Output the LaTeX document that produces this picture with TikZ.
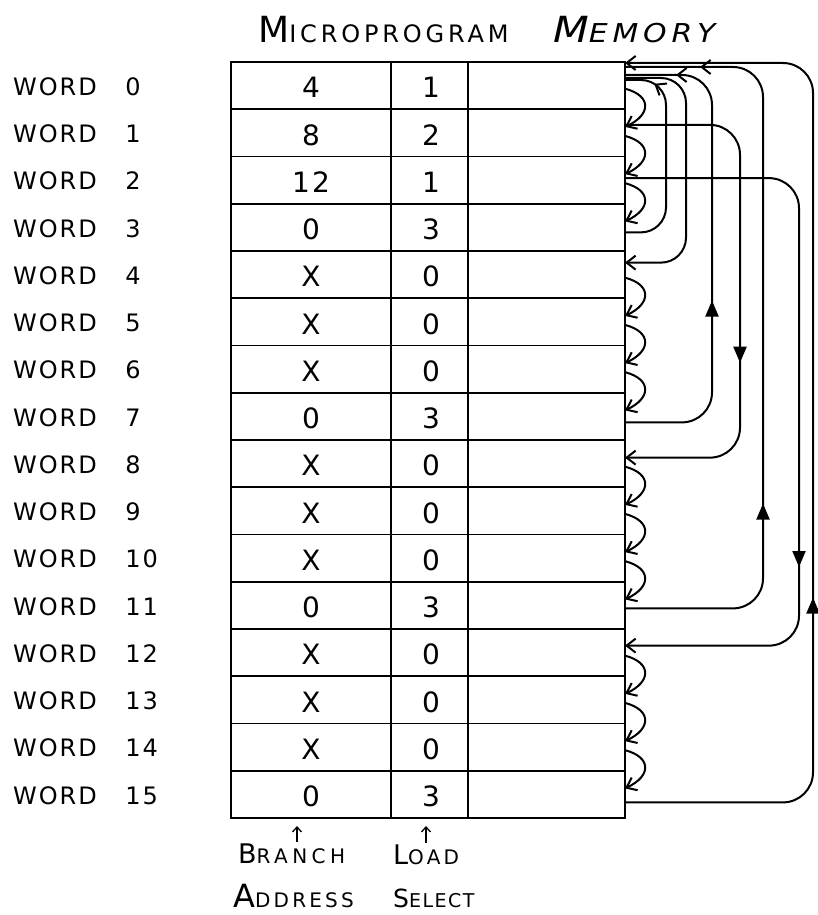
\documentclass[tikz,border=0pt]{standalone}
\usepackage{fontspec}
\setmainfont{DejaVu Sans}
\newfontfamily\hand[LetterSpace=8,WordSpace=3]{DejaVu Sans}
\newfontfamily\handwide[LetterSpace=16]{DejaVu Sans}
\newfontfamily\handwider[LetterSpace=22]{DejaVu Sans}
\usetikzlibrary{arrows.meta,decorations.markings}

\begin{document}
\begin{tikzpicture}[x=1pt,y=1pt,
  rowbox/.style={draw,line width=1.6pt,minimum width=394pt,minimum height=47.25pt,
                 inner sep=0pt,outer sep=0pt},
  grid/.style={line width=1.6pt},
  cell/.style={inner sep=0pt,font=\hand\fontsize{28}{28}\selectfont},
  wlabel/.style={inner sep=0pt,anchor=west,font=\hand\fontsize{24}{24}\selectfont},
  caption/.style={inner sep=0pt,anchor=base west,font=\handwide\fontsize{20}{20}\selectfont},
  wire/.style={line width=2pt},
  barb/.style={-{Straight Barb[length=9pt,width=14pt]}},
  tri/.style={postaction={decorate,decoration={markings,
      mark=at position #1 with {\arrow{Triangle[length=16pt,width=13pt]}}}}},
  midbarb/.style={postaction={decorate,decoration={markings,
      mark=at position #1 with {\arrow{Straight Barb[length=9pt,width=14pt]}}}}},
]
\useasboundingbox (0,0) rectangle (817,-915);

% memory rows
\foreach \i in {0,...,15}{
  \node[rowbox] (r\i) at (428,{-62-47.25*(\i+0.5)}) {};
}

% column separators
\coordinate (c1) at (391,0);
\coordinate (c2) at (468,0);
\draw[grid] (r0.north -| c1) -- (r15.south -| c1);
\draw[grid] (r0.north -| c2) -- (r15.south -| c2);

% cell contents and word labels
\coordinate (ca) at (311,0);
\coordinate (cb) at (431,0);
\coordinate (wx) at (13,0);
\foreach \i/\a/\b in {0/4/1,1/8/2,2/12/1,3/0/3,4/X/0,5/X/0,6/X/0,7/0/3,
                      8/X/0,9/X/0,10/X/0,11/0/3,12/X/0,13/X/0,14/X/0,15/0/3}{
  \node[cell] (a\i) at ([yshift=-2pt]r\i.center -| ca) {\a};
  \node[cell] (b\i) at ([yshift=-2pt]r\i.center -| cb) {\b};
  \node[wlabel] (w\i) at ([yshift=-1pt]r\i.center -| wx) {WORD \i};
}

% title
\node[inner sep=0pt,anchor=base west,font=\handwide\fontsize{24}{24}\selectfont]
  (t1) at (258,-43) {{\fontsize{36}{36}\selectfont M}ICROPROGRAM};
\node[inner sep=0pt,anchor=base west,font=\handwide\itshape\fontsize{26}{26}\selectfont,
      xscale=1.15]
  (t2) at (553,-43) {{\fontsize{36}{36}\selectfont M}EMORY};

% field captions
\node[caption,font=\handwider\fontsize{20}{20}\selectfont] (br) at (238,-863)
  {{\fontsize{27}{27}\selectfont B}RANCH};
\node[caption] (ad) at (233,-907) {{\fontsize{32}{32}\selectfont A}DDRESS};
\node[caption] (ld) at (393,-864) {{\fontsize{27}{27}\selectfont L}OAD};
\node[caption,font=\hand\fontsize{19}{19}\selectfont] (sl) at (393,-907)
  {{\fontsize{25}{25}\selectfont S}ELECT};
\coordinate (pa) at (297,-826);
\coordinate (pb) at (426,-826);
\draw[line width=1.3pt,-{Straight Barb[length=5pt,width=9pt]}] ([yshift=1pt]br.north -| pa) -- (pa);
\draw[line width=1.3pt,-{Straight Barb[length=5pt,width=9pt]}] ([yshift=1pt]ld.north -| pb) -- (pb);

% sequential next-address links
\foreach \i in {0,1,2,4,5,6,8,9,10,12,13,14}{
  \pgfmathtruncatemacro\j{\i+1}
  \draw[wire,barb] ([yshift=-3pt]r\i.east) to[out=-15,in=25,looseness=1.9]
        ([yshift=6pt]r\j.east);
}

% branch rails
\coordinate (v3) at (666,0);
\coordinate (v04) at (686,0);
\coordinate (v7) at (712,0);
\coordinate (v18) at (740,0);
\coordinate (v11) at (763,0);
\coordinate (v212) at (799,0);
\coordinate (v15) at (813,0);

% branch ports on the right edge
\coordinate (o15) at ([yshift=-8pt]r15.east);
\coordinate (i0a) at ([yshift=-1pt]r0.north east);
\coordinate (o11) at ([yshift=-3pt]r11.east);
\coordinate (i0b) at ([yshift=-5pt]r0.north east);
\coordinate (o7) at ([yshift=-6pt]r7.east);
\coordinate (i0c) at ([yshift=-13pt]r0.north east);
\coordinate (o3) at ([yshift=-5pt]r3.east);
\coordinate (i0d) at ([yshift=-18pt]r0.north east);
\coordinate (o0) at ([yshift=-16pt]r0.north east);
\coordinate (i4) at ([yshift=12pt]r4.east);
\coordinate (o1) at ([yshift=8pt]r1.east);
\coordinate (i8) at ([yshift=6pt]r8.east);
\coordinate (o2) at ([yshift=2pt]r2.east);
\coordinate (i12) at ([yshift=7pt]r12.east);

% branches back to word 0
\draw[wire,barb,rounded corners=30pt,tri=380pt] (o15) -| (v15 |- i0a) -- (i0a);
\draw[wire,rounded corners=30pt,tri=230pt,midbarb=-75pt] (o11) -| (v11 |- i0b) -- (i0b);
\draw[wire,rounded corners=30pt,tri=196pt,midbarb=-51pt] (o7) -| (v7 |- i0c) -- (i0c);
\draw[wire,rounded corners=25pt,midbarb=-30pt] (o3) -| (v3 |- i0d) -- (i0d);

% forward branches
\draw[wire,barb,rounded corners=25pt] (o0) -| (v04 |- i4) -- (i4);
\draw[wire,barb,rounded corners=30pt,tri=340pt] (o1) -| (v18 |- i8) -- (i8);
\draw[wire,barb,rounded corners=30pt,tri=550pt] (o2) -| (v212 |- i12) -- (i12);
\end{tikzpicture}
\end{document}
